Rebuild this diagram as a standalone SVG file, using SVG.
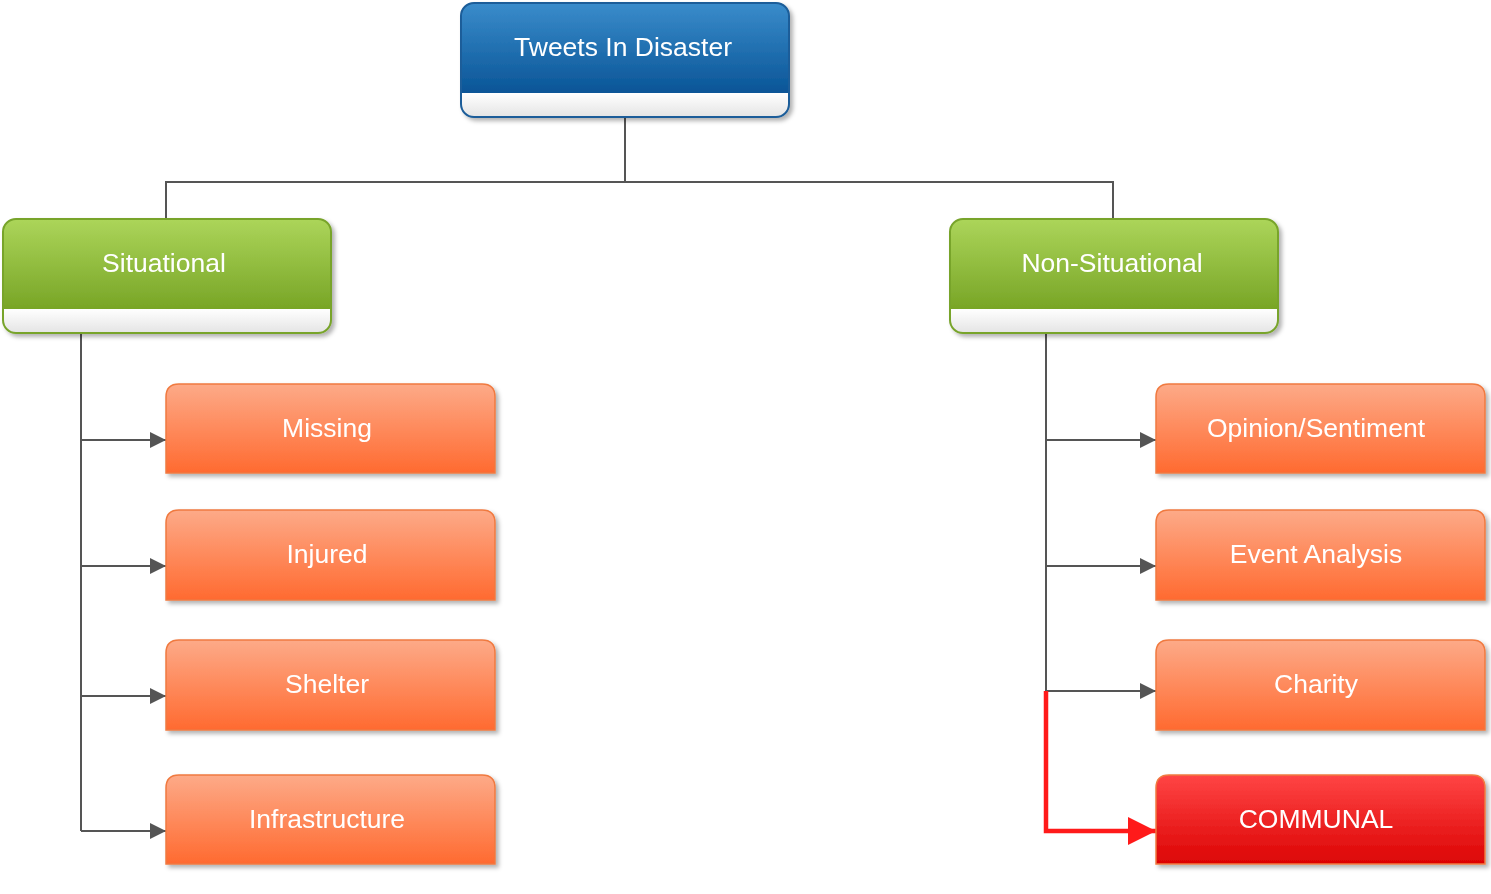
<svg xmlns="http://www.w3.org/2000/svg" width="1491" height="894" viewBox="0 0 1491 894">
<defs>
<linearGradient id="gBlue" x1="0" y1="0" x2="0" y2="1"><stop offset="0" stop-color="#3a8ccb"/><stop offset="1" stop-color="#0a5597"/></linearGradient>
<linearGradient id="gGreen" x1="0" y1="0" x2="0" y2="1"><stop offset="0" stop-color="#acd55a"/><stop offset="1" stop-color="#78a526"/></linearGradient>
<linearGradient id="gBand" x1="0" y1="0" x2="0" y2="1"><stop offset="0" stop-color="#ffffff"/><stop offset="1" stop-color="#e4e4e4"/></linearGradient>
<linearGradient id="gOrange" x1="0" y1="0" x2="0" y2="1"><stop offset="0" stop-color="#fdaa88"/><stop offset="1" stop-color="#ff6a30"/></linearGradient>
<linearGradient id="gRed" x1="0" y1="0" x2="0" y2="1"><stop offset="0" stop-color="#ff4545"/><stop offset="1" stop-color="#dc0404"/></linearGradient>
<filter id="sh" x="-5%" y="-5%" width="112%" height="120%"><feDropShadow dx="3" dy="3" stdDeviation="2" flood-color="#000" flood-opacity="0.3"/></filter>
<clipPath id="cTop"><rect x="461" y="3" width="328" height="114" rx="13"/></clipPath>
<clipPath id="cSit"><rect x="3" y="219" width="328" height="114" rx="13"/></clipPath>
<clipPath id="cNon"><rect x="950" y="219" width="328" height="114" rx="13"/></clipPath>
<marker id="arr" viewBox="0 0 10 10" refX="10" refY="5" markerWidth="16" markerHeight="16" markerUnits="userSpaceOnUse" orient="auto"><path d="M0,0 L10,5 L0,10 z" fill="#555"/></marker>
<marker id="arrR" viewBox="0 0 10 10" refX="10" refY="5" markerWidth="28" markerHeight="28" markerUnits="userSpaceOnUse" orient="auto"><path d="M0,0 L10,5 L0,10 z" fill="#ff1a1a"/></marker>
</defs>
<style>
.t{font-family:"Liberation Sans",Arial,sans-serif;font-size:26.5px;fill:#fff;text-anchor:middle}
.conn{fill:none;stroke:#555;stroke-width:2}
.ob{fill:url(#gOrange);stroke:#f07a40;stroke-width:1.5}
</style>
<g id="connectors">
<path class="conn" d="M625,117 V182 M166,219 V182 H1113 V219"/>
<path class="conn" d="M81,333 V831"/>
<path class="conn" d="M81,440 H166" marker-end="url(#arr)"/>
<path class="conn" d="M81,566 H166" marker-end="url(#arr)"/>
<path class="conn" d="M81,696 H166" marker-end="url(#arr)"/>
<path class="conn" d="M81,831 H166" marker-end="url(#arr)"/>
<path class="conn" d="M1046,333 V691"/>
<path class="conn" d="M1046,440 H1156" marker-end="url(#arr)"/>
<path class="conn" d="M1046,566 H1156" marker-end="url(#arr)"/>
<path class="conn" d="M1046,691 H1156" marker-end="url(#arr)"/>
<path d="M1046,691 V831 H1156" fill="none" stroke="#ff1a1a" stroke-width="4.5" marker-end="url(#arrR)"/>
</g>
<g id="node-tweets" filter="url(#sh)">
<g clip-path="url(#cTop)"><rect x="461" y="3" width="328" height="90" fill="url(#gBlue)"/><rect x="461" y="93" width="328" height="24" fill="url(#gBand)"/></g>
<rect x="461" y="3" width="328" height="114" rx="13" fill="none" stroke="#1b5d99" stroke-width="2"/>
<text class="t" x="623" y="56">Tweets In Disaster</text>
</g>
<g id="node-situational" filter="url(#sh)">
<g clip-path="url(#cSit)"><rect x="3" y="219" width="328" height="90" fill="url(#gGreen)"/><rect x="3" y="309" width="328" height="24" fill="url(#gBand)"/></g>
<rect x="3" y="219" width="328" height="114" rx="13" fill="none" stroke="#78a42c" stroke-width="2"/>
<text class="t" x="164" y="272">Situational</text>
</g>
<g id="node-nonsituational" filter="url(#sh)">
<g clip-path="url(#cNon)"><rect x="950" y="219" width="328" height="90" fill="url(#gGreen)"/><rect x="950" y="309" width="328" height="24" fill="url(#gBand)"/></g>
<rect x="950" y="219" width="328" height="114" rx="13" fill="none" stroke="#78a42c" stroke-width="2"/>
<text class="t" x="1112" y="272">Non-Situational</text>
</g>
<g id="node-missing" filter="url(#sh)"><path class="ob" d="M166,473 V397 Q166,384 179,384 H482 Q495,384 495,397 V473 Z"/><text class="t" x="327" y="437">Missing</text></g>
<g id="node-injured" filter="url(#sh)"><path class="ob" d="M166,600 V523 Q166,510 179,510 H482 Q495,510 495,523 V600 Z"/><text class="t" x="327" y="563">Injured</text></g>
<g id="node-shelter" filter="url(#sh)"><path class="ob" d="M166,730 V653 Q166,640 179,640 H482 Q495,640 495,653 V730 Z"/><text class="t" x="327" y="693">Shelter</text></g>
<g id="node-infrastructure" filter="url(#sh)"><path class="ob" d="M166,864 V788 Q166,775 179,775 H482 Q495,775 495,788 V864 Z"/><text class="t" x="327" y="828">Infrastructure</text></g>
<g id="node-opinion" filter="url(#sh)"><path class="ob" d="M1156,473 V397 Q1156,384 1169,384 H1472 Q1485,384 1485,397 V473 Z"/><text class="t" x="1316" y="437">Opinion/Sentiment</text></g>
<g id="node-event" filter="url(#sh)"><path class="ob" d="M1156,600 V523 Q1156,510 1169,510 H1472 Q1485,510 1485,523 V600 Z"/><text class="t" x="1316" y="563">Event Analysis</text></g>
<g id="node-charity" filter="url(#sh)"><path class="ob" d="M1156,730 V653 Q1156,640 1169,640 H1472 Q1485,640 1485,653 V730 Z"/><text class="t" x="1316" y="693">Charity</text></g>
<g id="node-communal" filter="url(#sh)"><path d="M1156,864 V788 Q1156,775 1169,775 H1472 Q1485,775 1485,788 V864 Z" fill="url(#gRed)" stroke="#f07a40" stroke-width="1.5"/><text class="t" x="1316" y="828">COMMUNAL</text></g>
</svg>
